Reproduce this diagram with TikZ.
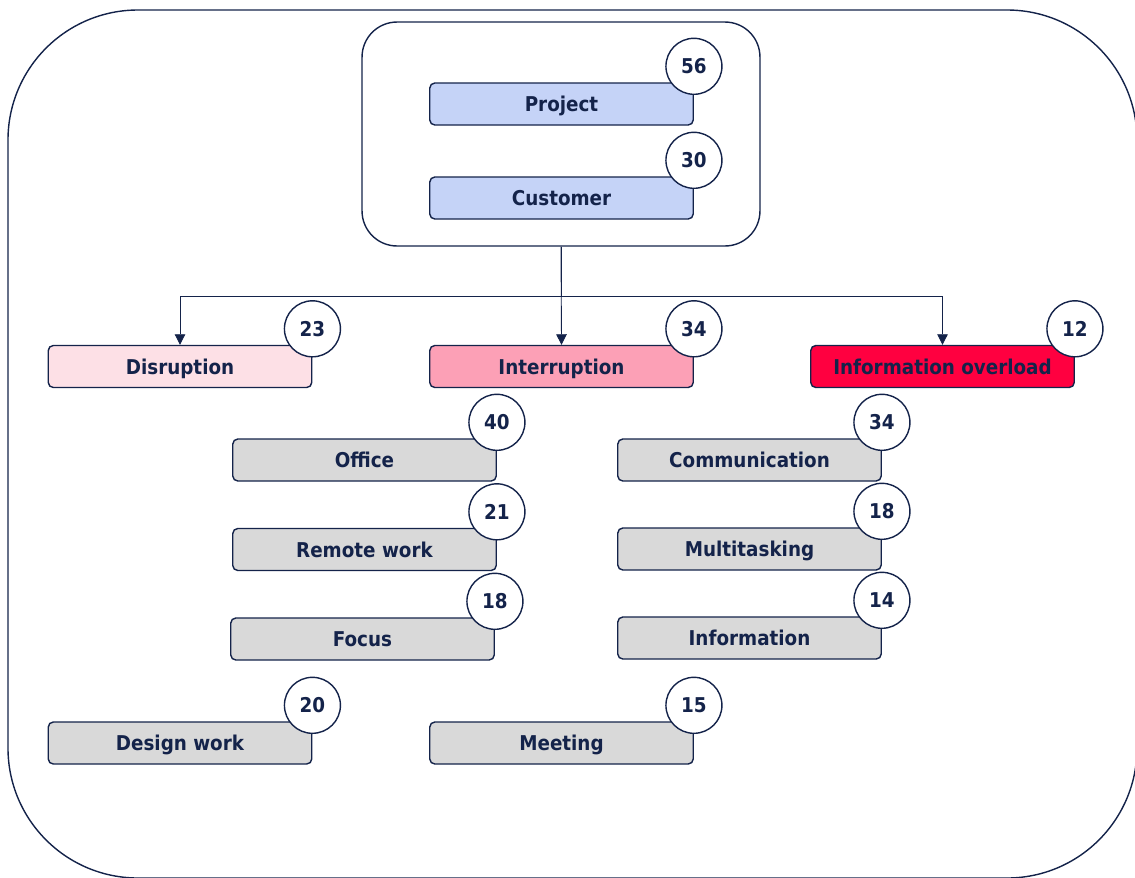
\documentclass[tikz,border=0pt]{standalone}
\usepackage{fontspec}
\setmainfont{DejaVu Sans Condensed}
\usetikzlibrary{arrows.meta,positioning}
\definecolor{ink}{HTML}{14234A}
\definecolor{topic}{HTML}{C5D3F7}
\definecolor{mild}{HTML}{FDE0E6}
\definecolor{mid}{HTML}{FCA0B6}
\definecolor{hot}{HTML}{FF0040}
\definecolor{cause}{HTML}{D9D9D9}

\begin{document}
\begin{tikzpicture}[x=0.02cm,y=-0.02cm,
    every node/.style={text=ink,font=\fontsize{11.6}{13}\selectfont\bfseries},
    tag/.style={draw=ink,line width=0.8pt,rounded corners=0.1cm,
      minimum width=5.27cm,minimum height=0.84cm,inner sep=0pt,
      text height=1.75ex,text depth=0.1ex},
    count/.style={draw=ink,fill=white,circle,line width=0.8pt,
      minimum size=1.12cm,inner sep=0pt},
    link/.style={draw=ink,line width=0.5pt,-{Triangle[width=6pt,length=6pt]}}]
    \useasboundingbox (0,0) rectangle (1135,877);
    \draw[ink,line width=0.8pt,rounded corners=2.6cm] (8,10) rectangle (1137,878);

    \path (561,134) node[draw=ink,line width=0.8pt,rounded corners=0.7cm,
      minimum width=7.96cm,minimum height=4.48cm] (grp) {};

    \path
    (561.5,104) node[tag,fill=topic] (prj) {Project}
    (561.5,198) node[tag,fill=topic] (cus) {Customer}
    (180,366.5) node[tag,fill=mild] (dis) {Disruption}
    (561.5,366.5) node[tag,fill=mid] (int) {Interruption}
    (942.5,366.5) node[tag,fill=hot] (ovl) {Information overload}
    (364.5,460) node[tag,fill=cause] (off) {Office}
    (364.5,549.5) node[tag,fill=cause] (rem) {Remote work}
    (362.5,639) node[tag,fill=cause] (foc) {Focus}
    (749.5,460) node[tag,fill=cause] (com) {Communication}
    (749.5,549) node[tag,fill=cause] (mul) {Multitasking}
    (749.5,638) node[tag,fill=cause] (inf) {Information}
    (180,743) node[tag,fill=cause] (des) {Design work}
    (561.5,743) node[tag,fill=cause] (mtg) {Meeting}
    ;

    \path
    ([yshift=0.32cm]prj.north east) node[count] (prjn) {56}
    ([yshift=0.32cm]cus.north east) node[count] (cusn) {30}
    ([yshift=0.32cm]dis.north east) node[count] (disn) {23}
    ([yshift=0.32cm]int.north east) node[count] (intn) {34}
    ([yshift=0.32cm]ovl.north east) node[count] (ovln) {12}
    ([yshift=0.32cm]off.north east) node[count] (offn) {40}
    ([yshift=0.32cm]rem.north east) node[count] (remn) {21}
    ([yshift=0.32cm]foc.north east) node[count] (focn) {18}
    ([yshift=0.32cm]com.north east) node[count] (comn) {34}
    ([yshift=0.32cm]mul.north east) node[count] (muln) {18}
    ([yshift=0.32cm]inf.north east) node[count] (infn) {14}
    ([yshift=0.32cm]des.north east) node[count] (desn) {20}
    ([yshift=0.32cm]mtg.north east) node[count] (mtgn) {15}
    ;

    \draw[link] (grp.south) -- ++(0,50) -| (dis.north);
    \draw[link] (grp.south) -- ++(0,50) -| (ovl.north);
    \draw[link] (grp.south) -- (int.north);
\end{tikzpicture}
\end{document}
